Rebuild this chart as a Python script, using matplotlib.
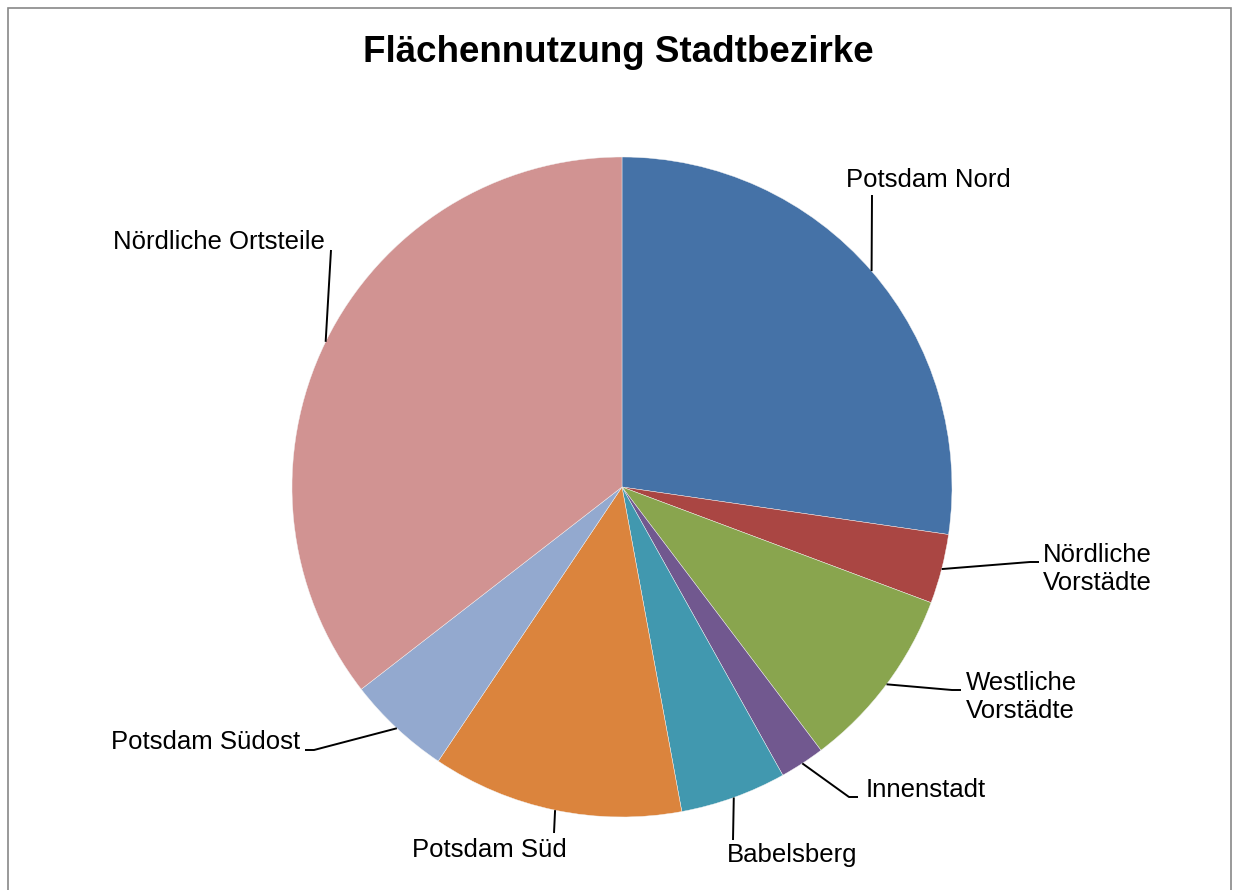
import numpy as np
import matplotlib.pyplot as plt
from matplotlib.patches import Rectangle

# Flächenanteile in Prozent (aus dem Bild geschätzt)
districts = ['Potsdam Nord', 'Nördliche\nVorstädte', 'Westliche\nVorstädte', 'Innenstadt',
             'Babelsberg', 'Potsdam Süd', 'Potsdam Südost', 'Nördliche Ortsteile']
shares = [27.3, 3.4, 9.0, 2.2, 5.2, 12.3, 5.1, 35.5]
colors = ['#4572A7', '#AA4643', '#89A54E', '#71588F', '#4198AF', '#DB843D', '#93A9CF', '#D19392']

# label anchor (pixel coords, y from top), alignment, elbow point
label_pos = [(846, 180, 'left'), (1043, 569, 'left'), (966, 697, 'left'), (866, 790, 'left'),
             (792, 855, 'center'), (489, 850, 'center'), (300, 742, 'right'), (325, 242, 'right')]
elbows = [(872, 195), (1030, 562), (952, 690), (849, 797),
          (733, 840), (554, 833), (314, 750), (331, 250)]

W, H = 1234, 890
plt.rcParams['font.family'] = ['Liberation Sans', 'DejaVu Sans']

fig = plt.figure(figsize=(W / 100, H / 100), dpi=100)
ax = fig.add_axes([0, 0, 1, 1])

cx, cy, r = 622, H - 487, 330
wedges, _ = ax.pie(shares, colors=colors, startangle=90, counterclock=False,
                   center=(cx, cy), radius=r, frame=True,
                   wedgeprops=dict(edgecolor='#f4f4f4', linewidth=0.3))
ax.set_xlim(0, W)
ax.set_ylim(0, H)
ax.set_aspect('equal')
ax.axis('off')

for w, name, (lx, ly, ha), (ex, ey) in zip(wedges, districts, label_pos, elbows):
    mid = np.deg2rad((w.theta1 + w.theta2) / 2)
    px, py = cx + r * np.cos(mid), cy + r * np.sin(mid)
    xs = [px, ex]
    ys = [py, H - ey]
    # short horizontal tick next to the label for the side labels
    if name in ('Nördliche\nVorstädte', 'Westliche\nVorstädte', 'Innenstadt'):
        xs.append(ex + 9)
        ys.append(H - ey)
    elif name == 'Potsdam Südost':
        xs.append(ex - 9)
        ys.append(H - ey)
    ax.plot(xs, ys, color='black', linewidth=1.4, solid_capstyle='butt')
    ax.text(lx, H - ly, name, ha=ha, va='center', fontsize=18.5, linespacing=1.25)

ax.text(W / 2 + 1, H - 52, 'Flächennutzung Stadtbezirke', ha='center', va='center',
        fontsize=26.5, fontweight='bold')

fig.patches.append(Rectangle((8 / W, -0.01), (W - 11) / W, (H - 8) / H + 0.01,
                             transform=fig.transFigure, fill=False,
                             edgecolor='#888888', linewidth=1.2))

fig.savefig('out.png', dpi=100)
